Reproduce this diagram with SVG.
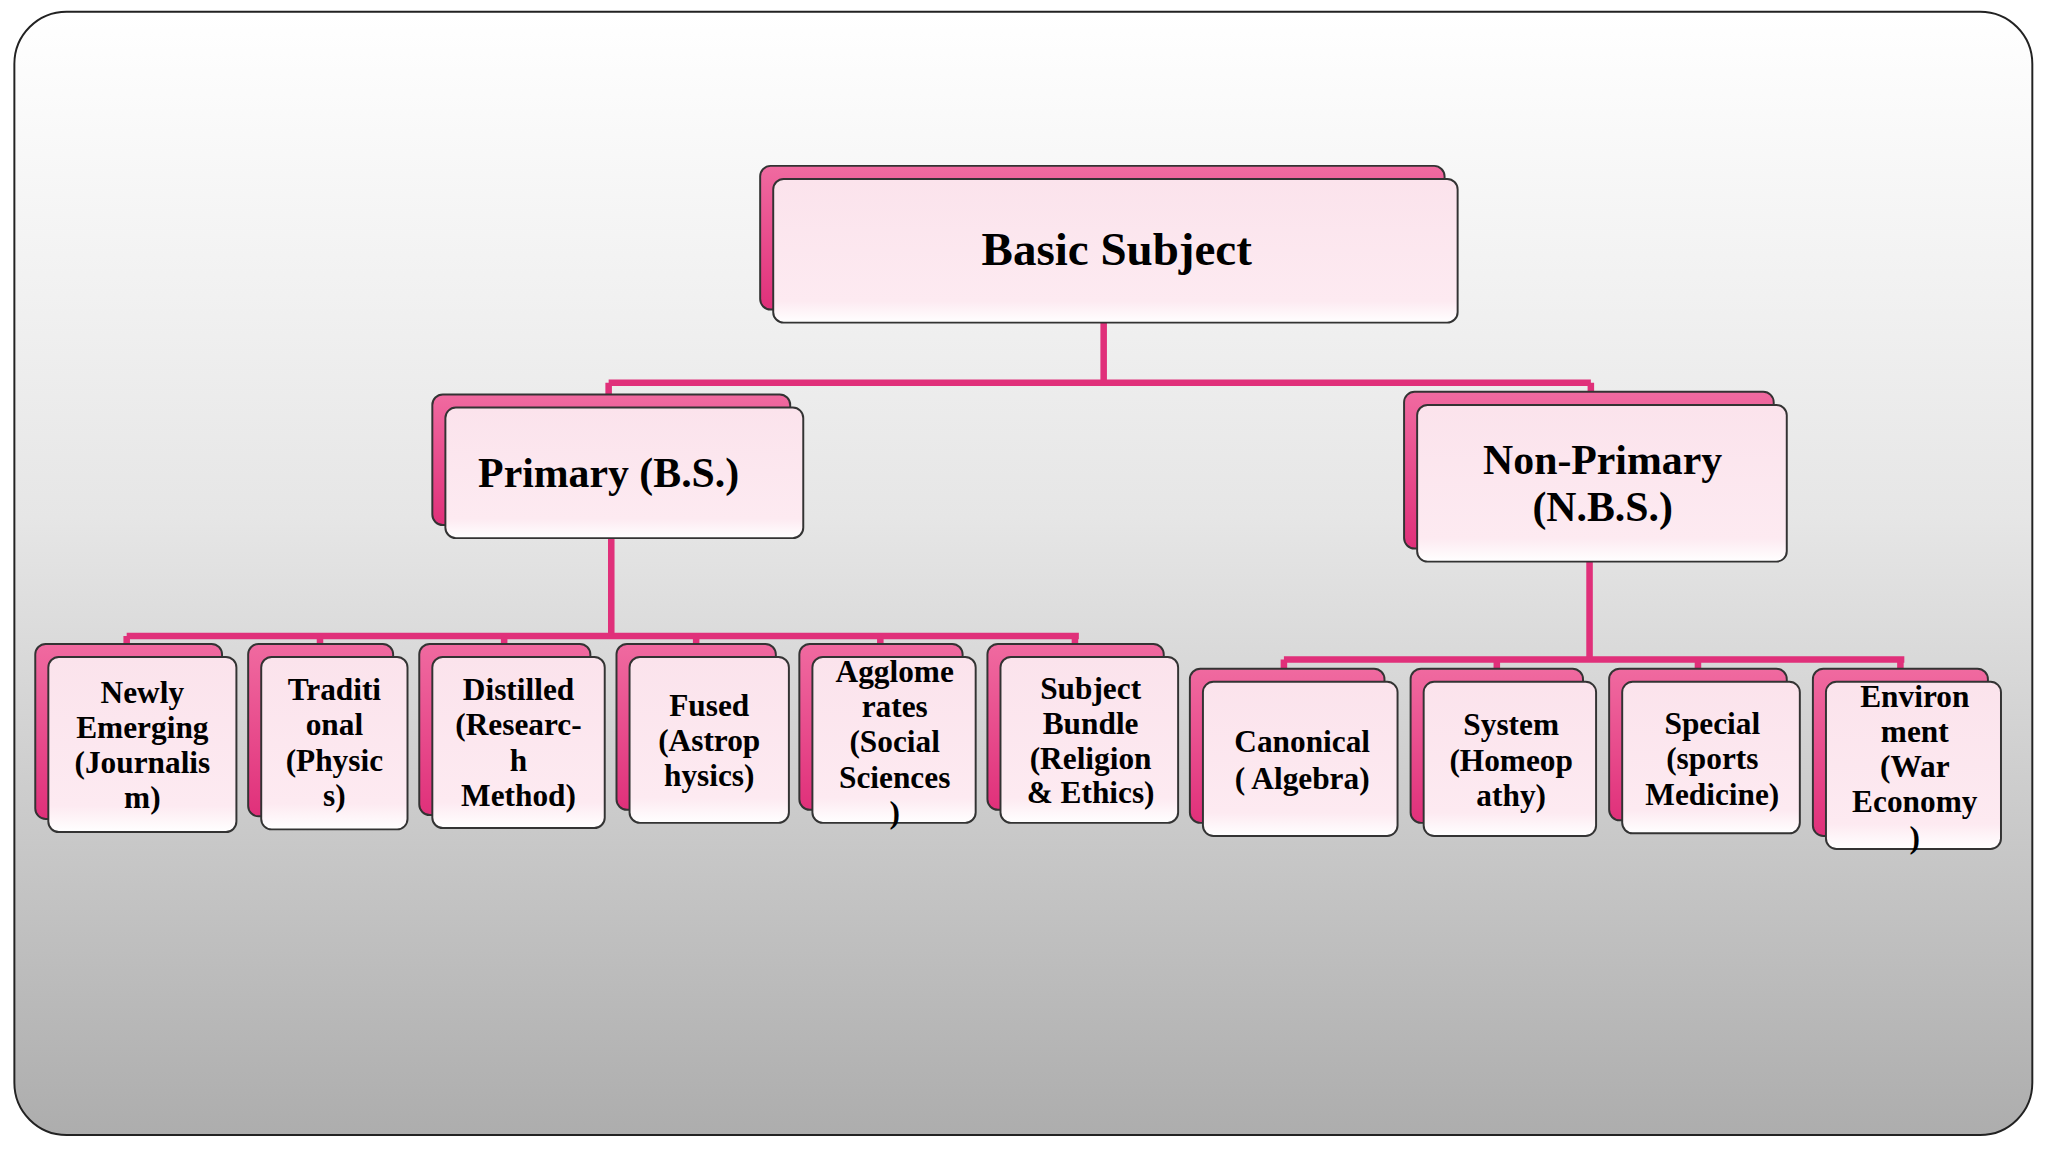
<svg xmlns="http://www.w3.org/2000/svg" width="2048" height="1152" viewBox="0 0 2048 1152">
<defs>
<linearGradient id="bg" x1="0" y1="0" x2="0" y2="1"><stop offset="0" stop-color="#ffffff"/><stop offset="0.45" stop-color="#e6e6e6"/><stop offset="1" stop-color="#adadad"/></linearGradient>
<linearGradient id="pk" x1="0" y1="0" x2="0" y2="1"><stop offset="0" stop-color="#f06aa0"/><stop offset="1" stop-color="#e0307a"/></linearGradient>
<linearGradient id="fr" x1="0" y1="0" x2="0" y2="1"><stop offset="0" stop-color="#fbe3ec"/><stop offset="0.85" stop-color="#fdeaf1"/><stop offset="1" stop-color="#ffffff"/></linearGradient>
<style>
.b{fill:url(#pk);stroke:#333;stroke-width:1.5}
.f{fill:url(#fr);stroke:#333;stroke-width:1.5}
.c{fill:none;stroke:#e0307a;stroke-width:5}
text{font-family:"Liberation Serif",serif;font-weight:bold;fill:#000;text-anchor:middle}
.t1{font-size:36px}.t2{font-size:32px}.t3{font-size:24px}
</style>
</defs>
<g transform="scale(1.30612)">
<rect x="11" y="9" width="1545" height="860" rx="40" fill="url(#bg)" stroke="#222" stroke-width="1.5"/>
<g id="connectors">
<path class="c" d="M845 247V293M466 293H1218M466 293V302M1218 293V300"/>
<path class="c" d="M468 412V487M97 487H826M97 487V494M245 487V494M386 487V494M533 487V494M674 487V494M823 487V494"/>
<path class="c" d="M1217 430V505M983 505H1458M983 505V512M1146 505V512M1300 505V512M1455 505V512"/>
</g>
<g id="basic"><rect class="b" x="582" y="127" width="524" height="110" rx="8"/><rect class="f" x="592" y="137" width="524" height="110" rx="8"/><text class="t1" x="855" y="203">Basic Subject</text></g>
<g id="primary"><rect class="b" x="331" y="302" width="274" height="100" rx="8"/><rect class="f" x="341" y="312" width="274" height="100" rx="8"/><text class="t2" x="466" y="373">Primary (B.S.)</text></g>
<g id="nonprimary"><rect class="b" x="1075" y="300" width="283" height="120" rx="8"/><rect class="f" x="1085" y="310" width="283" height="120" rx="8"/><text class="t2" x="1227" y="363">Non-Primary</text><text class="t2" x="1227" y="399">(N.B.S.)</text></g>
<g id="n1"><rect class="b" x="27" y="493" width="143" height="134" rx="8"/><rect class="f" x="37" y="503" width="144" height="134" rx="8"/><text class="t3" x="109"><tspan x="109" y="538">Newly</tspan><tspan x="109" y="565">Emerging</tspan><tspan x="109" y="592">(Journalis</tspan><tspan x="109" y="619">m)</tspan></text></g>
<g id="n2"><rect class="b" x="190" y="493" width="111" height="132" rx="8"/><rect class="f" x="200" y="503" width="112" height="132" rx="8"/><text class="t3"><tspan x="256" y="536">Traditi</tspan><tspan x="256" y="563">onal</tspan><tspan x="256" y="590">(Physic</tspan><tspan x="256" y="617">s)</tspan></text></g>
<g id="n3"><rect class="b" x="321" y="493" width="131" height="131" rx="8"/><rect class="f" x="331" y="503" width="132" height="131" rx="8"/><text class="t3"><tspan x="397" y="536">Distilled</tspan><tspan x="397" y="563">(Researc-</tspan><tspan x="397" y="590">h</tspan><tspan x="397" y="617">Method)</tspan></text></g>
<g id="n4"><rect class="b" x="472" y="493" width="122" height="127" rx="8"/><rect class="f" x="482" y="503" width="122" height="127" rx="8"/><text class="t3"><tspan x="543" y="548">Fused</tspan><tspan x="543" y="575">(Astrop</tspan><tspan x="543" y="602">hysics)</tspan></text></g>
<g id="n5"><rect class="b" x="612" y="493" width="125" height="127" rx="8"/><rect class="f" x="622" y="503" width="125" height="127" rx="8"/><text class="t3"><tspan x="685" y="522">Agglome</tspan><tspan x="685" y="549">rates</tspan><tspan x="685" y="576">(Social</tspan><tspan x="685" y="603">Sciences</tspan><tspan x="685" y="630">)</tspan></text></g>
<g id="n6"><rect class="b" x="756" y="493" width="135" height="127" rx="8"/><rect class="f" x="766" y="503" width="136" height="127" rx="8"/><text class="t3"><tspan x="835" y="535">Subject</tspan><tspan x="835" y="562">Bundle</tspan><tspan x="835" y="589">(Religion</tspan><tspan x="835" y="615">&amp; Ethics)</tspan></text></g>
<g id="n7"><rect class="b" x="911" y="512" width="149" height="118" rx="8"/><rect class="f" x="921" y="522" width="149" height="118" rx="8"/><text class="t3"><tspan x="997" y="576">Canonical</tspan><tspan x="997" y="604">( Algebra)</tspan></text></g>
<g id="n8"><rect class="b" x="1080" y="512" width="132" height="118" rx="8"/><rect class="f" x="1090" y="522" width="132" height="118" rx="8"/><text class="t3"><tspan x="1157" y="563">System</tspan><tspan x="1157" y="590">(Homeop</tspan><tspan x="1157" y="617">athy)</tspan></text></g>
<g id="n9"><rect class="b" x="1232" y="512" width="136" height="116" rx="8"/><rect class="f" x="1242" y="522" width="136" height="116" rx="8"/><text class="t3"><tspan x="1311" y="562">Special</tspan><tspan x="1311" y="589">(sports</tspan><tspan x="1311" y="616">Medicine)</tspan></text></g>
<g id="n10"><rect class="b" x="1388" y="512" width="134" height="128" rx="8"/><rect class="f" x="1398" y="522" width="134" height="128" rx="8"/><text class="t3"><tspan x="1466" y="541">Environ</tspan><tspan x="1466" y="568">ment</tspan><tspan x="1466" y="595">(War</tspan><tspan x="1466" y="622">Economy</tspan><tspan x="1466" y="649">)</tspan></text></g>
</g>
</svg>
